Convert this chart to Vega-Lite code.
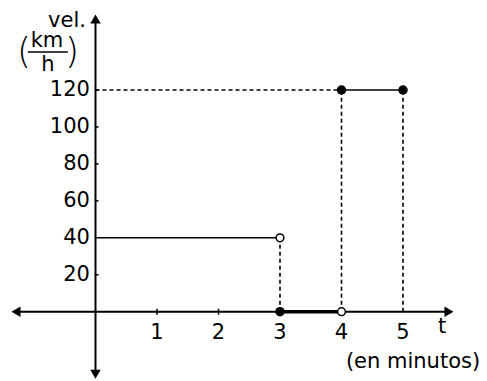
{
  "$schema": "https://vega.github.io/schema/vega-lite/v6.json",
  "width": 487,
  "height": 381,
  "autosize": {"type": "fit", "contains": "padding"},
  "padding": 0,
  "background": "white",
  "config": {"view": {"stroke": null}},
  "datasets": {
    "axes": [
      {"x": -1.29, "x2": 5.75, "y": 0, "y2": 0},
      {"x": 0, "x2": 0, "y": -33.5, "y2": 158}
    ],
    "ticks": [
      {"x": 0, "x2": 0.05, "y": 20, "y2": 20},
      {"x": 0, "x2": 0.05, "y": 60, "y2": 60},
      {"x": 0, "x2": 0.05, "y": 80, "y2": 80},
      {"x": 0, "x2": 0.05, "y": 100, "y2": 100},
      {"x": 0, "x2": 0.05, "y": 120, "y2": 120},
      {"x": 1, "x2": 1, "y": -1.6, "y2": 1.6},
      {"x": 2, "x2": 2, "y": -1.6, "y2": 1.6}
    ],
    "dashed": [
      {"x": 0, "x2": 4, "y": 120, "y2": 120},
      {"x": 3, "x2": 3, "y": 0, "y2": 40},
      {"x": 4, "x2": 4, "y": 0, "y2": 120},
      {"x": 5, "x2": 5, "y": 0, "y2": 120}
    ],
    "solid": [
      {"x": 0, "x2": 3, "y": 40, "y2": 40},
      {"x": 4, "x2": 5, "y": 120, "y2": 120},
      {"x": -1.1, "x2": -0.45, "y": 140.6, "y2": 140.6}
    ],
    "thick": [
      {"x": 3, "x2": 4, "y": 0, "y2": 0}
    ],
    "arrows": [
      {"x": 0, "y": 158.4, "shape": "triangle-up"},
      {"x": 0, "y": -33.9, "shape": "triangle-down"},
      {"x": -1.293, "y": 0, "shape": "triangle-left"},
      {"x": 5.748, "y": 0, "shape": "triangle-right"}
    ],
    "closed": [
      {"t": 3, "v": 0},
      {"t": 4, "v": 120},
      {"t": 5, "v": 120}
    ],
    "open": [
      {"t": 3, "v": 40},
      {"t": 4, "v": 0}
    ],
    "ylabels": [
      {"x": -0.09, "y": 20, "label": "20"},
      {"x": -0.09, "y": 40, "label": "40"},
      {"x": -0.09, "y": 60, "label": "60"},
      {"x": -0.09, "y": 80, "label": "80"},
      {"x": -0.09, "y": 100, "label": "100"},
      {"x": -0.09, "y": 120, "label": "120"}
    ],
    "clabels": [
      {"x": 1, "y": -11.5, "label": "1"},
      {"x": 2, "y": -11.5, "label": "2"},
      {"x": 3, "y": -11.5, "label": "3"},
      {"x": 4, "y": -11.5, "label": "4"},
      {"x": 5, "y": -11.5, "label": "5"},
      {"x": 5.634, "y": -8.5, "label": "t"},
      {"x": 5.163, "y": -27.2, "label": "(en minutos)"},
      {"x": -0.463, "y": 157.4, "label": "vel."},
      {"x": -0.789, "y": 146.5, "label": "km"},
      {"x": -0.772, "y": 133.5, "label": "h"}
    ],
    "parens": [
      {"x": -1.163, "y": 140.6, "label": "("},
      {"x": -0.382, "y": 140.6, "label": ")"}
    ]
  },
  "layer": [
    {
      "data": {"name": "axes"},
      "mark": {"type": "rule", "color": "black", "strokeWidth": 2},
      "encoding": {
        "x": {"field": "x", "type": "quantitative", "scale": {"domain": [-1.5528, 6.3659], "nice": false, "zero": false}, "axis": null},
        "x2": {"field": "x2"},
        "y": {"field": "y", "type": "quantitative", "scale": {"domain": [-37.51, 168.71], "nice": false, "zero": false}, "axis": null},
        "y2": {"field": "y2"}
      }
    },
    {
      "data": {"name": "ticks"},
      "mark": {"type": "rule", "color": "black", "strokeWidth": 1.5},
      "encoding": {
        "x": {"field": "x", "type": "quantitative"},
        "x2": {"field": "x2"},
        "y": {"field": "y", "type": "quantitative"},
        "y2": {"field": "y2"}
      }
    },
    {
      "data": {"name": "dashed"},
      "mark": {"type": "rule", "color": "black", "strokeWidth": 1.6, "strokeDash": [4, 3]},
      "encoding": {
        "x": {"field": "x", "type": "quantitative"},
        "x2": {"field": "x2"},
        "y": {"field": "y", "type": "quantitative"},
        "y2": {"field": "y2"}
      }
    },
    {
      "data": {"name": "solid"},
      "mark": {"type": "rule", "color": "black", "strokeWidth": 1.6},
      "encoding": {
        "x": {"field": "x", "type": "quantitative"},
        "x2": {"field": "x2"},
        "y": {"field": "y", "type": "quantitative"},
        "y2": {"field": "y2"}
      }
    },
    {
      "data": {"name": "thick"},
      "mark": {"type": "rule", "color": "black", "strokeWidth": 3.5},
      "encoding": {
        "x": {"field": "x", "type": "quantitative"},
        "x2": {"field": "x2"},
        "y": {"field": "y", "type": "quantitative"},
        "y2": {"field": "y2"}
      }
    },
    {
      "data": {"name": "arrows"},
      "mark": {"type": "point", "filled": true, "color": "black", "size": 110, "opacity": 1},
      "encoding": {
        "x": {"field": "x", "type": "quantitative"},
        "y": {"field": "y", "type": "quantitative"},
        "shape": {"field": "shape", "type": "nominal", "scale": null}
      }
    },
    {
      "data": {"name": "closed"},
      "mark": {"type": "point", "shape": "circle", "filled": true, "color": "black", "size": 90, "opacity": 1},
      "encoding": {
        "x": {"field": "t", "type": "quantitative"},
        "y": {"field": "v", "type": "quantitative"}
      }
    },
    {
      "data": {"name": "open"},
      "mark": {"type": "point", "shape": "circle", "filled": true, "fill": "white", "stroke": "black", "strokeWidth": 1.5, "size": 60, "opacity": 1},
      "encoding": {
        "x": {"field": "t", "type": "quantitative"},
        "y": {"field": "v", "type": "quantitative"}
      }
    },
    {
      "data": {"name": "ylabels"},
      "mark": {"type": "text", "align": "right", "baseline": "middle", "font": "DejaVu Sans", "fontSize": 21, "color": "black"},
      "encoding": {
        "x": {"field": "x", "type": "quantitative"},
        "y": {"field": "y", "type": "quantitative"},
        "text": {"field": "label"}
      }
    },
    {
      "data": {"name": "clabels"},
      "mark": {"type": "text", "align": "center", "baseline": "middle", "font": "DejaVu Sans", "fontSize": 21, "color": "black"},
      "encoding": {
        "x": {"field": "x", "type": "quantitative"},
        "y": {"field": "y", "type": "quantitative"},
        "text": {"field": "label"}
      }
    },
    {
      "data": {"name": "parens"},
      "mark": {"type": "text", "align": "center", "baseline": "middle", "font": "DejaVu Sans", "fontSize": 36, "fontWeight": 200, "color": "black"},
      "encoding": {
        "x": {"field": "x", "type": "quantitative"},
        "y": {"field": "y", "type": "quantitative"},
        "text": {"field": "label"}
      }
    }
  ]
}
